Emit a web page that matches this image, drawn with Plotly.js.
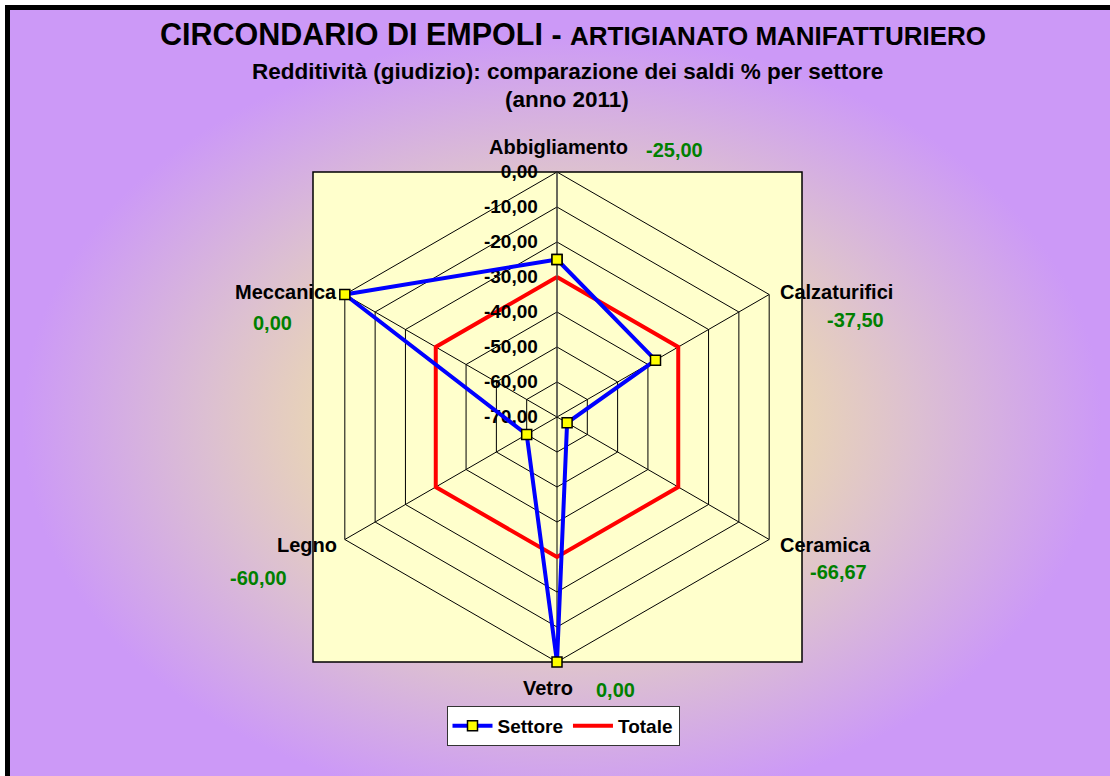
<!DOCTYPE html>
<html>
<head>
<meta charset="utf-8">
<script src="https://cdn.plot.ly/plotly-3.0.1.min.js"></script>
<style>
  html, body { margin:0; padding:0; background:#ffffff; }
  #wrap { position:relative; width:1110px; height:776px; overflow:hidden; background:#ffffff; }
  #bg { position:absolute; left:5px; top:5px; width:1120px; height:790px;
        border-left:5px solid #000; border-top:5px solid #000;
        background: radial-gradient(ellipse 540px 390px at 552px 412px,
          #f3e2a6 0%, #ead6b4 42%, #dcbfd2 66%, #cc99f7 100%), #cc99f7; }
  #chart { position:absolute; left:0; top:0; width:1110px; height:776px; }
</style>
</head>
<body>
<div id="wrap"><div id="bg"></div><div id="chart"></div></div>
<script>
// ---- data ----
const categories = ['Abbigliamento', 'Calzaturifici', 'Ceramica', 'Vetro', 'Legno', 'Meccanica'];
const settore = [-25.00, -37.50, -66.67, 0.00, -60.00, 0.00];
const totale  = [-30.00, -30.00, -30.00, -30.00, -30.00, -30.00];
const valueLabels = ['-25,00', '-37,50', '-66,67', '0,00', '-60,00', '0,00'];
const tickValues = [0, -10, -20, -30, -40, -50, -60, -70];
const tickLabels = ['0,00', '-10,00', '-20,00', '-30,00', '-40,00', '-50,00', '-60,00', '-70,00'];
const rMin = -70, rMax = 0;

const closeLoop = a => a.concat([a[0]]);
const FONT = 'Liberation Sans, Arial, sans-serif';

const traces = [
  {
    type: 'scatterpolar', subplot: 'polar2', name: 'Settore', mode: 'lines+markers',
    theta: closeLoop(categories), r: closeLoop(settore),
    line: { color: '#0000FF', width: 4 },
    marker: { symbol: 'square', size: 10, color: '#FFFF00', line: { color: '#000000', width: 1.5 } }
  },
  {
    type: 'scatterpolar', subplot: 'polar', name: 'Totale', mode: 'lines',
    theta: closeLoop(categories), r: closeLoop(totale),
    line: { color: '#FF0000', width: 4 }
  }
];

const W = 1110, H = 776;
const px = x => x / W, py = y => 1 - y / H;

// main radar geometry (pixels)
const cx = 557, cy = 417, R = 245;
const pad = 5;                       // extra data units on overlay so outer markers are not clipped
const R2 = R * (rMax + pad - rMin) / (rMax - rMin);

const catPos = [[558,147],[836,292],[825,545],[548,688],[307,545],[286,292]];
const valPos = [[674,150],[855,320],[838,572],[615,690],[258,578],[272,323]];

const annotations = [];
categories.forEach((c, i) => {
  annotations.push({ xref:'paper', yref:'paper', x: px(catPos[i][0]), y: py(catPos[i][1]),
    xanchor:'center', yanchor:'middle', showarrow:false, text: c,
    font: { family: FONT, size: 20, color:'#000000', weight:'bold' } });
  annotations.push({ xref:'paper', yref:'paper', x: px(valPos[i][0]), y: py(valPos[i][1]),
    xanchor:'center', yanchor:'middle', showarrow:false, text: valueLabels[i],
    font: { family: FONT, size: 20, color:'#008000', weight:'bold' } });
});
annotations.push({ xref:'paper', yref:'paper', x: px(567), y: py(71), xanchor:'center', yanchor:'middle',
  showarrow:false, text:'Redditività (giudizio): comparazione dei saldi % per settore',
  font: { family: FONT, size: 22.5, color:'#000000', weight:'bold' } });
annotations.push({ xref:'paper', yref:'paper', x: px(567), y: py(99), xanchor:'center', yanchor:'middle',
  showarrow:false, text:'(anno 2011)',
  font: { family: FONT, size: 22.5, color:'#000000', weight:'bold' } });

const layout = {
  width: W, height: H,
  margin: { l:0, r:0, t:0, b:0 },
  paper_bgcolor: 'rgba(0,0,0,0)',
  plot_bgcolor: 'rgba(0,0,0,0)',
  font: { family: FONT, color:'#000000' },
  title: {
    text: 'CIRCONDARIO DI EMPOLI - <span style="font-size:26px">ARTIGIANATO MANIFATTURIERO</span>',
    font: { family: FONT, size: 30.5, color:'#000000', weight:'bold' },
    x: px(573), xanchor:'center', y: py(34), yanchor:'middle', xref:'paper', yref:'paper'
  },
  showlegend: true,
  legend: {
    orientation:'h', x: px(563), xanchor:'center', y: py(726), yanchor:'middle',
    bgcolor:'#FFFFFF', bordercolor:'#333333', borderwidth:1,
    font: { family: FONT, size: 19, color:'#000000', weight:'bold' },
    itemwidth: 40, tracegroupgap: 0
  },
  shapes: [
    { type:'rect', xref:'paper', yref:'paper', layer:'below',
      x0: px(313), x1: px(802), y0: py(662), y1: py(172),
      fillcolor:'#FFFFCC', line:{ color:'#000000', width:1.5 } }
  ],
  annotations: annotations,
  polar: {
    domain: { x: [px(cx-R), px(cx+R)], y: [py(cy+R), py(cy-R)] },
    bgcolor: 'rgba(0,0,0,0)',
    gridshape: 'linear',
    radialaxis: {
      range: [rMin, rMax], angle: 90, tickangle: 90,
      tickmode:'array', tickvals: tickValues, ticktext: tickLabels,
      showline: true, linecolor:'#555555', linewidth: 1,
      gridcolor:'#000000', gridwidth: 1,
      ticks:'outside', ticklen: 12, tickcolor:'rgba(0,0,0,0)',
      side:'counterclockwise',
      tickfont: { family: FONT, size: 19, color:'#000000', weight:'bold' }
    },
    angularaxis: {
      type:'category', categoryarray: categories,
      direction:'clockwise', rotation: 90,
      showline: true, linecolor:'#000000', linewidth: 1,
      gridcolor:'#000000', gridwidth: 1,
      showticklabels: false, ticks:''
    }
  },
  polar2: {
    domain: { x: [px(cx-R2), px(cx+R2)], y: [py(cy+R2), py(cy-R2)] },
    bgcolor: 'rgba(0,0,0,0)',
    gridshape: 'circular',
    radialaxis: { range: [rMin, rMax + pad], visible: false, showgrid: false },
    angularaxis: {
      type:'category', categoryarray: categories,
      direction:'clockwise', rotation: 90,
      showline: false, showgrid: false, showticklabels: false, ticks:''
    }
  }
};

Plotly.newPlot('chart', traces, layout, { displayModeBar:false, staticPlot:true });
</script>
</body>
</html>
